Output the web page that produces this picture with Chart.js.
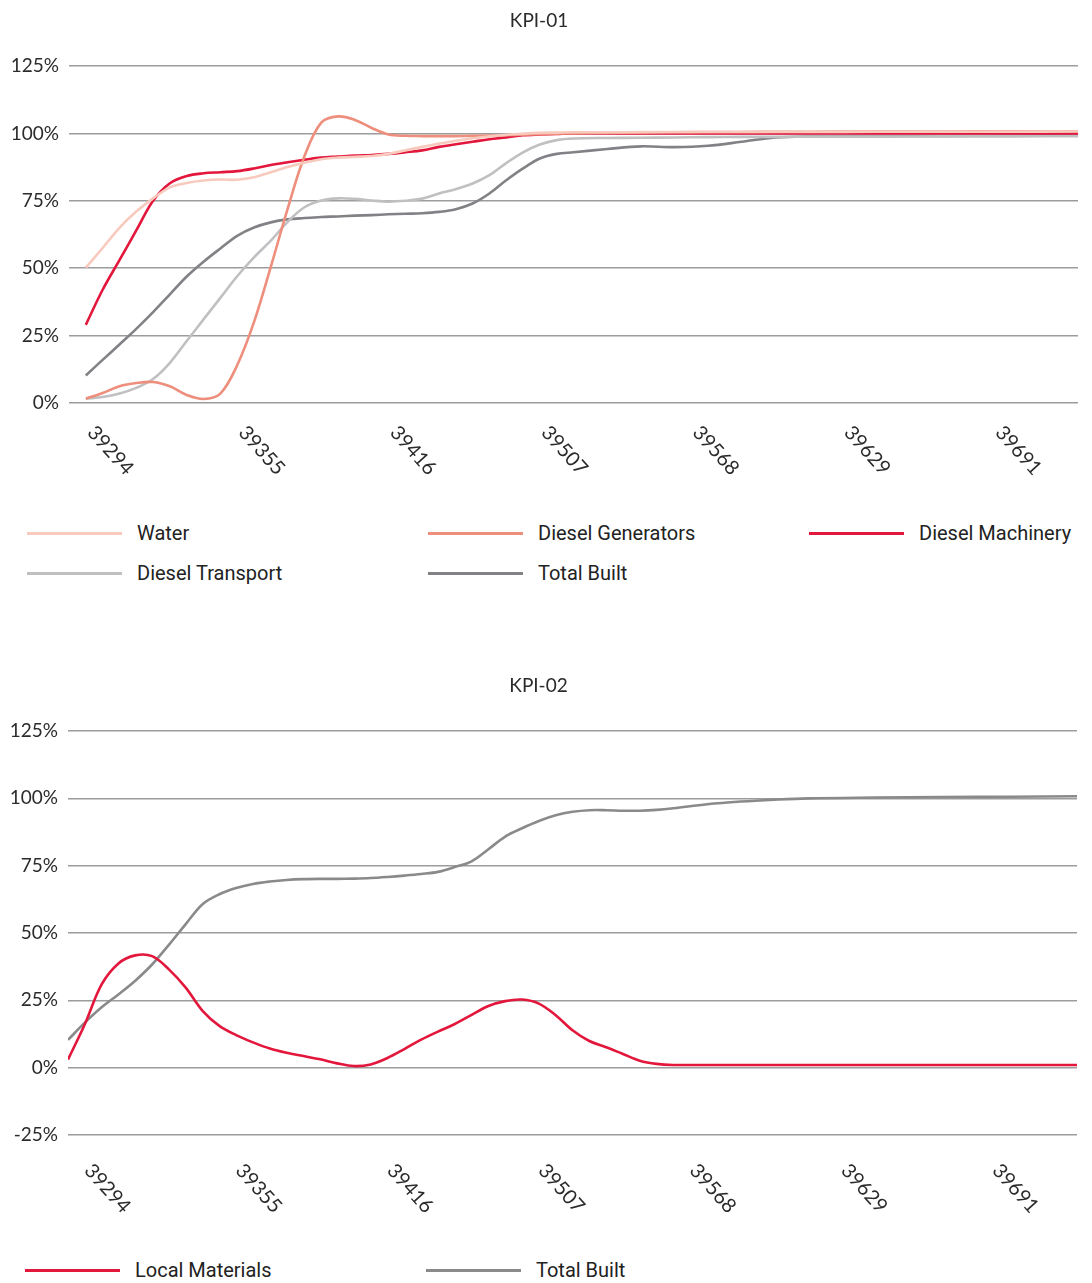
<!DOCTYPE html>
<html>
<head>
<meta charset="utf-8">
<script src="https://cdn.jsdelivr.net/npm/chart.js@4.4.1/dist/chart.umd.min.js"></script>
<style>
  html, body { margin: 0; padding: 0; background: #fff; }
  body { width: 1092px; height: 1283px; position: relative; overflow: hidden; font-family: Roboto, "Noto Sans", sans-serif; }
  .wrap { position: absolute; left: 0; width: 1092px; }
  .lg { position: absolute; display: flex; align-items: center; height: 24px; font-size: 20px; color: #222; white-space: nowrap; }
  .lg .sw { display: inline-block; width: 95px; height: 3px; margin-right: 15px; }
</style>
</head>
<body>
<div class="wrap" style="top:0;height:490px"><canvas id="kpi1" width="1092" height="490"></canvas></div>
<div id="legend1"></div>
<div class="wrap" style="top:665px;height:560px"><canvas id="kpi2" width="1092" height="560"></canvas></div>
<div id="legend2"></div>

<script>
// Axis labels (Excel date serials) and where they sit on the index axis
const tickIndex  = [0, 9, 18, 27, 36, 45, 54];
const tickLabels = ['39294', '39355', '39416', '39507', '39568', '39629', '39691'];

// KPI-01: sample positions on the index axis
const kpi1Index = [1,2,3,4,5,6,7,8,9,10,11,12,13,14,15,16,17,18,19,20,21,22,23,24,25,26,27,28,29,30,
                   32,34,36,38,40,42,44,48,52,56,60];
const water = [50.2,57.5,65,71,75.9,80,81.6,82.5,82.9,82.8,83.7,85.6,87.5,89.1,90.4,91,91.3,91.6,92.4,93.7,
               95,96.2,97.3,98.2,98.9,99.5,99.9,100.2,100.3,100.4,
               100.4,100.5,100.5,100.5,100.5,100.5,100.5,100.6,100.6,100.6,100.7];
const dieselGenerators = [1.6,3.7,6.2,7.4,7.8,6.2,3,1.5,3.5,14,30,50.5,72,91.5,104,106.3,105,102,99.6,99.1,
               99,99,99,99.1,99.2,99.3,99.5,99.7,99.9,100,
               100.2,100.3,100.4,100.5,100.5,100.6,100.6,100.7,100.7,100.8,100.8];
const dieselMachinery = [29,42,53,64,75,81.5,84.2,85.2,85.6,86,87,88.3,89.3,90.2,91,91.4,91.8,92,92.4,93,
               93.7,95,96,96.9,97.8,98.5,99.3,99.6,99.8,100,
               100,100,100,100,100,100,100,100,100,100,100];
const dieselTransport = [1.6,2.2,3.5,5.6,8.9,14.9,23,31,39,47,54,60.2,67.2,72.6,75.1,75.9,75.7,75.1,74.7,75,
               75.8,77.7,79.3,81.4,84.5,89,93,95.9,97.5,98.1,
               98.3,98.4,98.5,98.6,98.7,98.7,98.8,98.8,98.9,98.9,99];
const totalBuilt1 = [10.2,16,21.7,27.5,33.7,40.3,46.9,52.4,57.3,62,65.1,67,68.1,68.6,69,69.2,69.5,69.7,70,70.2,
               70.4,70.9,71.9,74,77.7,82.6,87,90.7,92.4,93,
               94.2,95.2,94.9,95.4,96.9,98.5,98.9,99,99.1,99.2,99.3];

// KPI-02: sample positions on the index axis
const kpi2Index = [0,1,2,3,4,5,6,7,8,9,10,11,12,13,14,15,16,17,18,19,20,21,22,23,24,25,26,27,28,29,30,
                   31,32,33,34,35,36,38,40,42,44,48,52,56,60];
const localMaterials = [3,16.1,30.9,38.7,41.7,41.4,36.5,29.7,21.1,15.5,12.1,9.4,7.1,5.5,4.3,3.1,1.6,0.6,1.2,3.6,
               6.9,10.4,13.4,16.2,19.6,22.9,24.7,25.3,23.8,19.5,13.9,
               9.9,7.6,5.1,2.6,1.4,1,1,1,1,1,1,1,1,1];
const totalBuilt2 = [10.3,16.7,22.4,27.2,32.3,38.3,45.6,53.3,60.7,64.4,66.7,68.2,69.1,69.7,70,70.1,70.1,70.2,70.4,70.8,
               71.3,71.9,72.7,74.5,76.6,81.1,85.8,88.9,91.6,93.7,95,
               95.6,95.6,95.4,95.4,95.7,96.3,97.8,98.8,99.5,100,100.3,100.5,100.6,100.8];

const COLORS = {
  water: '#f8cabd',
  generators: '#ee8e7c',
  machinery: '#e3163c',
  transport: '#c0c0c3',
  total: '#828286',
  total2: '#8a8a8d'
};

const GRID = '#9c9c9c';
const TEXT = '#2b2b2b';

function pts(xs, ys) { return xs.map((x, k) => ({ x: x, y: ys[k] })); }

function series(label, xs, ys, color) {
  return {
    label: label,
    data: pts(xs, ys),
    borderColor: color,
    backgroundColor: color,
    borderWidth: 2.6,
    pointRadius: 0,
    tension: 0.35,
    fill: false
  };
}

// Category labels slanted downward to the right, anchored at each tick
function slantedTicks(dx, dy) {
  return {
    id: 'slantedTicks',
    afterDraw(chart) {
      const sc = chart.scales.x;
      const ctx = chart.ctx;
      ctx.save();
      ctx.font = '20px Lato';
      ctx.fillStyle = TEXT;
      ctx.textAlign = 'left';
      ctx.textBaseline = 'middle';
      tickIndex.forEach((v, k) => {
        const px = sc.getPixelForValue(v);
        ctx.save();
        ctx.translate(px + dx, sc.top + dy);
        ctx.rotate(48 * Math.PI / 180);
        ctx.fillText(tickLabels[k], 0, 0);
        ctx.restore();
      });
      ctx.restore();
    }
  };
}

function makeChart(id, title, datasets, yMin, yWidth, padRight, xHeight, dx, dy) {
  return new Chart(document.getElementById(id), {
    type: 'line',
    data: { datasets: datasets },
    options: {
      responsive: false,
      animation: false,
      devicePixelRatio: 1,
      layout: { padding: { left: 0, right: padRight, top: 0, bottom: 0 } },
      plugins: {
        legend: { display: false },
        tooltip: { enabled: false },
        title: {
          display: true,
          text: title,
          color: TEXT,
          font: { family: 'Lato', size: 19, weight: 'normal' },
          padding: { top: 9, bottom: 34.2 }
        }
      },
      scales: {
        x: {
          type: 'linear',
          min: 0,
          max: 60,
          grid: { display: false },
          border: { display: false },
          ticks: { display: false },
          afterFit(scale) { scale.height = xHeight; }
        },
        y: {
          min: yMin,
          max: 125,
          ticks: {
            stepSize: 25,
            padding: 10,
            color: TEXT,
            font: { family: 'Lato', size: 19 },
            callback: (v) => v + '%'
          },
          grid: { color: GRID, lineWidth: 1.5, drawTicks: false },
          border: { display: false },
          afterFit(scale) { scale.width = yWidth; }
        }
      }
    },
    plugins: [slantedTicks(dx, dy)]
  });
}

makeChart('kpi1', 'KPI-01', [
  series('Water', kpi1Index, water, COLORS.water),
  series('Diesel Generators', kpi1Index, dieselGenerators, COLORS.generators),
  series('Diesel Machinery', kpi1Index, dieselMachinery, COLORS.machinery),
  series('Diesel Transport', kpi1Index, dieselTransport, COLORS.transport),
  series('Total Built', kpi1Index, totalBuilt1, COLORS.total)
], 0, 69, 14, 87, 22, 26);

makeChart('kpi2', 'KPI-02', [
  series('Local Materials', kpi2Index, localMaterials, COLORS.machinery),
  series('Total Built', kpi2Index, totalBuilt2, COLORS.total2)
], -25, 68, 15, 90, 20, 32);

// Legends laid out on a fixed column grid
function legend(hostId, items) {
  const host = document.getElementById(hostId);
  items.forEach(it => {
    const d = document.createElement('div');
    d.className = 'lg';
    d.style.left = it.x + 'px';
    d.style.top = (it.y - 12) + 'px';
    const sw = document.createElement('span');
    sw.className = 'sw';
    sw.style.background = it.color;
    d.appendChild(sw);
    d.appendChild(document.createTextNode(it.label));
    host.appendChild(d);
  });
}

legend('legend1', [
  { label: 'Water', color: COLORS.water, x: 27, y: 533 },
  { label: 'Diesel Generators', color: COLORS.generators, x: 428, y: 533 },
  { label: 'Diesel Machinery', color: COLORS.machinery, x: 809, y: 533 },
  { label: 'Diesel Transport', color: COLORS.transport, x: 27, y: 573 },
  { label: 'Total Built', color: COLORS.total, x: 428, y: 573 }
]);
legend('legend2', [
  { label: 'Local Materials', color: COLORS.machinery, x: 25, y: 1270 },
  { label: 'Total Built', color: COLORS.total2, x: 426, y: 1270 }
]);
</script>
</body>
</html>
